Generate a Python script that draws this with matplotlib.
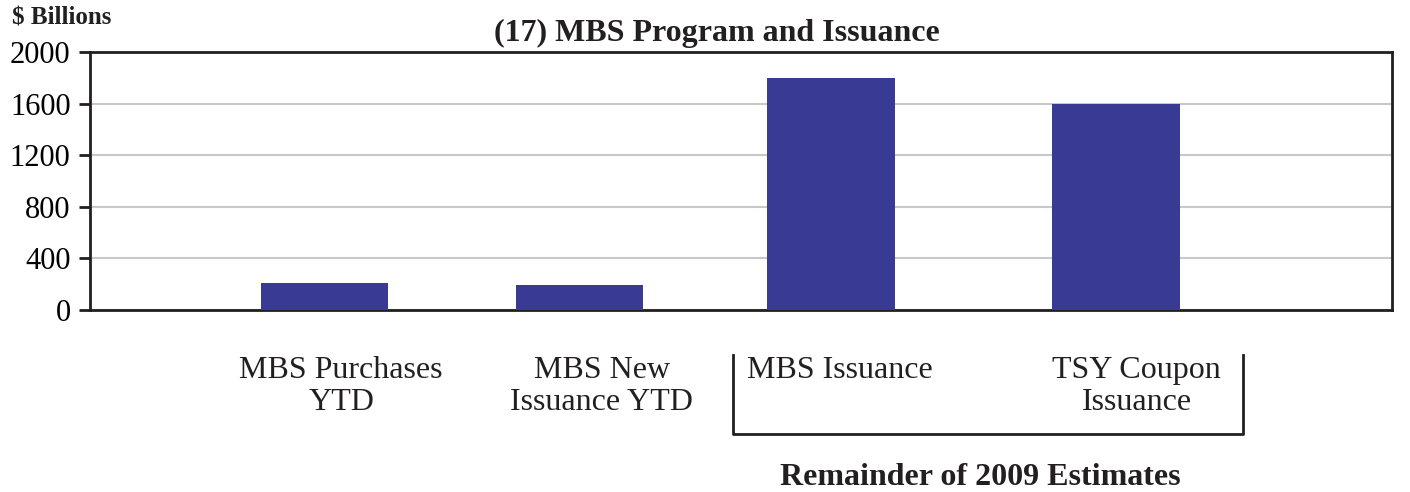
import matplotlib
matplotlib.use('Agg')
import matplotlib.pyplot as plt
from matplotlib.lines import Line2D

plt.rcParams['font.family'] = ['Liberation Serif', 'DejaVu Serif']

# data
categories = ['MBS Purchases\nYTD', 'MBS New\nIssuance YTD', 'MBS Issuance', 'TSY Coupon\nIssuance']
values = [210, 195, 1800, 1600]
yticks = [0, 400, 800, 1200, 1600, 2000]

# layout (bar centres and label centres as fraction of axis width)
bar_pos = [0.180, 0.376, 0.569, 0.788]
lab_pos = [0.193, 0.393, 0.576, 0.804]
bar_w = 0.098
bar_color = '#383A94'

fig = plt.figure(figsize=(14.1, 4.92), dpi=100)
ax = fig.add_axes([0.0638, 0.3699, 0.9234, 0.5244])

ax.bar(bar_pos, values, width=bar_w, color=bar_color, zorder=3)
ax.set_xlim(0, 1)
ax.set_ylim(0, 2000)
ax.set_yticks(yticks)
ax.set_yticklabels([str(t) for t in yticks], fontsize=22)
ax.set_xticks([])
ax.yaxis.grid(True, color='#c8c8c8', lw=1.5, zorder=0)
for s in ax.spines.values():
    s.set_linewidth(2)
    s.set_color('#231f20')
ax.tick_params(axis='y', direction='out', length=8, width=2, color='#231f20', pad=6)

# category labels
for x, lab in zip(lab_pos, categories):
    ax.text(x, -0.18, lab, transform=ax.get_xaxis_transform(), ha='center', va='top',
            fontsize=23, linespacing=1.1, color='#231f20')

# bracket around estimates
bx0, bx1 = 0.4939, 0.8856
by0, by1 = -0.174, -0.481
ax.add_line(Line2D([bx0, bx0, bx1, bx1], [by0, by1, by1, by0], transform=ax.get_xaxis_transform(),
                   color='#231f20', lw=2, clip_on=False))
ax.text(0.6836, -0.65, 'Remainder of 2009 Estimates', transform=ax.get_xaxis_transform(),
        ha='center', va='center', fontsize=23, fontweight='bold', color='#231f20')

fig.text(0.5085, 0.933, '(17) MBS Program and Issuance', ha='center', va='center',
         fontsize=23, fontweight='bold', color='#231f20')
fig.text(0.0085, 0.963, '$ Billions', ha='left', va='center', fontsize=18,
         fontweight='bold', color='#231f20')

fig.savefig('out.png', dpi=100)
